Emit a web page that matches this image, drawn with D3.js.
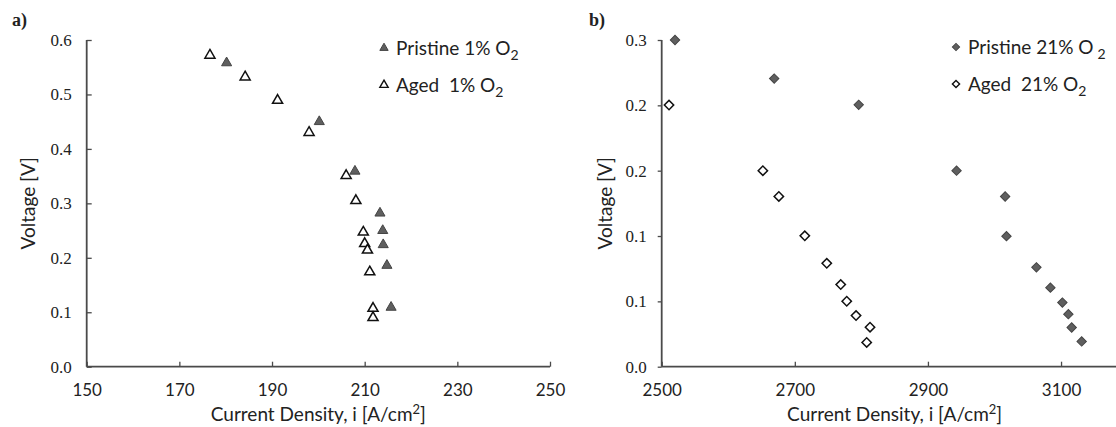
<!DOCTYPE html>
<html>
<head>
<meta charset="utf-8">
<script src="https://cdn.jsdelivr.net/npm/d3@7"></script>
<style>
  body { margin: 0; background: #fff; }
  svg text { fill: #222; }
</style>
</head>
<body>
<svg id="chart" width="1116" height="427"></svg>
<script>
// panel a) 1% O2
const pristine1X = [180.2, 200.2, 207.9, 213.3, 213.9, 214.0, 214.8, 215.7];
const pristine1Y = [0.558, 0.450, 0.359, 0.282, 0.250, 0.224, 0.186, 0.109];
const aged1X = [176.6, 184.2, 191.2, 198.0, 206.0, 208.1, 209.7, 210.0, 210.6, 211.1, 211.8, 211.8];
const aged1Y = [0.572, 0.532, 0.489, 0.430, 0.351, 0.305, 0.247, 0.226, 0.214, 0.174, 0.107, 0.090];
const xTicksA = [150, 170, 190, 210, 230, 250];
const yTicksA = [0, 0.1, 0.2, 0.3, 0.4, 0.5, 0.6];

// panel b) 21% O2
const pristine21X = [2520, 2669, 2796, 2943, 3016, 3018, 3063, 3084, 3102, 3111, 3116, 3131];
const pristine21Y = [0.300, 0.2646, 0.2405, 0.180, 0.1563, 0.1199, 0.0913, 0.0726, 0.0589, 0.0482, 0.036, 0.0232];
const aged21X = [2511, 2652, 2676, 2715, 2748, 2769, 2778, 2792, 2813, 2808];
const aged21Y = [0.2402, 0.180, 0.1563, 0.1202, 0.0949, 0.0754, 0.0601, 0.0470, 0.0363, 0.0223];
const xTicksB = [2500, 2700, 2900, 3100];
const yTicksB = [0, 0.06, 0.12, 0.18, 0.24, 0.30];

const svg = d3.select("#chart");
const axisColor = "#4a4a4a";
const darkFill = "#5f5f5f";
const sans = "Lato, 'Open Sans', sans-serif";
const serif = "'Liberation Serif', 'Times New Roman', serif";

const zip = (xs, ys) => xs.map((x, i) => ({ x: x, y: ys[i] }));

// draw one panel
const drawPanel = cfg => {
  const g = svg.append("g");
  const x = d3.scaleLinear().domain(cfg.xDomain).range(cfg.xRange);
  const y = d3.scaleLinear().domain(cfg.yDomain).range([366.7, 40]);

  // x axis
  const xAxis = g.append("g")
    .attr("transform", `translate(0,${y(0)})`)
    .call(d3.axisBottom(x).tickValues(cfg.xTicks).tickSize(-5).tickPadding(17).tickFormat(d3.format("d")));
  xAxis.select(".domain").remove();
  xAxis.append("line")
    .attr("x1", cfg.xRange[0]).attr("x2", cfg.xLineEnd)
    .attr("stroke", axisColor).attr("stroke-width", 1.8);
  xAxis.selectAll(".tick line").attr("stroke", axisColor).attr("stroke-width", 1.3);
  xAxis.selectAll(".tick text")
    .style("font-family", sans).style("font-size", "17px").style("fill", "#222")
    .attr("dy", "0.71em");

  // y axis
  const yAxis = g.append("g")
    .attr("transform", `translate(${cfg.xRange[0]},0)`)
    .call(d3.axisLeft(y).tickValues(cfg.yTicks).tickSize(cfg.yTickSize).tickPadding(cfg.yTickPad).tickFormat(d3.format(".1f")));
  yAxis.select(".domain").attr("stroke", axisColor).attr("stroke-width", 1.8)
    .attr("d", `M0,${y(0)}V${y(cfg.yDomain[1])}`);
  yAxis.selectAll(".tick line").attr("stroke", axisColor).attr("stroke-width", 1.3);
  yAxis.selectAll(".tick text")
    .attr("font-family", serif)
    .style("font-family", serif).style("font-size", "17px").style("fill", "#222");

  // axis titles
  const xt = g.append("text")
    .style("font-family", sans).style("font-size", "19px")
    .attr("x", (cfg.xRange[0] + cfg.xRange[1]) / 2 + cfg.titleShift).attr("y", 421)
    .attr("text-anchor", "middle");
  xt.append("tspan").text("Current Density, i [A/cm");
  xt.append("tspan").attr("dy", -7).style("font-size", "13px").text("2");
  xt.append("tspan").attr("dy", 7).text("]");

  g.append("text")
    .style("font-family", sans).style("font-size", "19px")
    .attr("transform", `translate(${cfg.yTitleX},${(y(0) + y(cfg.yDomain[1])) / 2}) rotate(-90)`)
    .attr("text-anchor", "middle")
    .text("Voltage [V]");

  // panel label
  g.append("text")
    .style("font-family", serif).style("font-size", "18px").style("font-weight", "bold")
    .attr("x", cfg.labelX).attr("y", 26).text(cfg.label);

  // markers
  const drawSeries = (data, sym, filled) => {
    g.append("g").selectAll("path")
      .data(data)
      .enter()
      .append("path")
      .attr("transform", d => `translate(${x(d.x)},${y(d.y)})${cfg.rotate}`)
      .attr("d", sym)
      .attr("fill", filled ? darkFill : "#fff")
      .attr("stroke", filled ? "#444" : "#111")
      .attr("stroke-width", filled ? 1 : 1.5);
  };
  drawSeries(cfg.aged, cfg.symbol, false);
  drawSeries(cfg.pristine, cfg.symbol, true);

  // legend
  cfg.legend.forEach((item, i) => {
    const ly = cfg.legendY + i * 37;
    g.append("path")
      .attr("transform", `translate(${cfg.legendX},${ly})${cfg.rotate}`)
      .attr("d", cfg.legendSymbol)
      .attr("fill", item.filled ? darkFill : "#fff")
      .attr("stroke", item.filled ? "#444" : "#111")
      .attr("stroke-width", item.filled ? 1 : 1.4);
    const t = g.append("text")
      .style("font-family", sans).style("font-size", "19px").style("white-space", "pre")
      .attr("x", cfg.legendX + 12).attr("y", ly + 7);
    t.append("tspan").text(item.name);
    t.append("tspan").attr("dx", item.gap).attr("dy", 5).style("font-size", "14px").text("2");
  });
};

drawPanel({
  xDomain: [150, 250], xRange: [86.7, 550], xLineEnd: 550, xTicks: xTicksA,
  yDomain: [0, 0.6], yTicks: yTicksA, yTickSize: -5, yTickPad: 15,
  yTitleX: 35, titleShift: 0, label: "a)", labelX: 12,
  symbol: d3.symbol(d3.symbolTriangle, 44)(), legendSymbol: d3.symbol(d3.symbolTriangle, 30)(),
  rotate: "",
  pristine: zip(pristine1X, pristine1Y), aged: zip(aged1X, aged1Y),
  legendX: 384, legendY: 48,
  legend: [{ name: "Pristine 1% O", filled: true, gap: 0 }, { name: "Aged  1% O", filled: false, gap: 0 }]
});

drawPanel({
  xDomain: [2500, 3200], xRange: [661.7, 1127.6], xLineEnd: 1116, xTicks: xTicksB,
  yDomain: [0, 0.3], yTicks: yTicksB, yTickSize: 4, yTickPad: 11,
  yTitleX: 612, titleShift: 0, label: "b)", labelX: 589,
  symbol: d3.symbol(d3.symbolSquare, 44)(), legendSymbol: d3.symbol(d3.symbolSquare, 26)(),
  rotate: " rotate(45)",
  pristine: zip(pristine21X, pristine21Y), aged: zip(aged21X, aged21Y),
  legendX: 956, legendY: 47,
  legend: [{ name: "Pristine 21% O", filled: true, gap: 4 }, { name: "Aged  21% O", filled: false, gap: 0 }]
});
</script>
</body>
</html>
